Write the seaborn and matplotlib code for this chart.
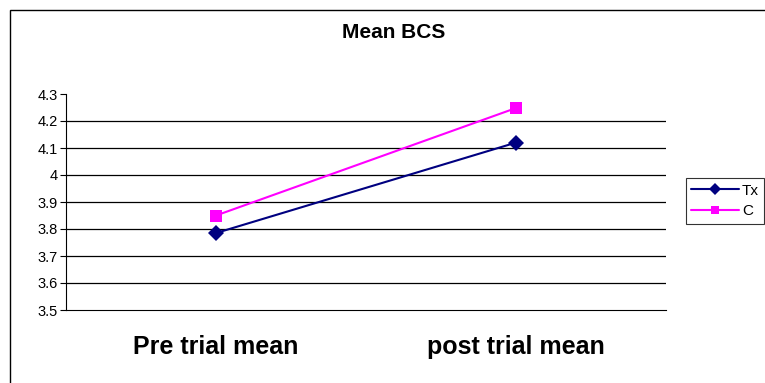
import numpy as np
import pandas as pd
import matplotlib
matplotlib.use('Agg')
import matplotlib.pyplot as plt
import seaborn as sns
from matplotlib.patches import Rectangle

# values
periods = ['Pre trial mean', 'post trial mean']
tx_vals = [3.785, 4.12]
c_vals = [3.85, 4.248]
series_names = ['Tx', 'C']
y_ticks = [3.5, 3.6, 3.7, 3.8, 3.9, 4.0, 4.1, 4.2, 4.3]
y_labels = ['3.5', '3.6', '3.7', '3.8', '3.9', '4', '4.1', '4.2', '4.3']

df = pd.DataFrame({
    'period': periods * 2,
    'pos': [0, 1, 0, 1],
    'value': tx_vals + c_vals,
    'series': [series_names[0]] * 2 + [series_names[1]] * 2,
})

sns.set_style('white')
plt.rcParams['font.family'] = ['Liberation Sans', 'DejaVu Sans']
plt.rcParams['text.color'] = 'black'
plt.rcParams['xtick.color'] = 'black'
plt.rcParams['ytick.color'] = 'black'

fig = plt.figure(figsize=(7.65, 3.83), dpi=100)
ax = fig.add_axes([66 / 765, 1 - 310 / 383, 600 / 765, 216 / 383])

# outer chart border (runs off the right/bottom edge like the reference)
fig.patches.append(Rectangle((10 / 765, -0.1), 1.2, (373 / 383) + 0.1,
                             transform=fig.transFigure, fill=False,
                             edgecolor='black', linewidth=1.0, zorder=0))

for yv in y_ticks[1:-1]:
    ax.axhline(yv, color='black', linewidth=0.9, zorder=1)

sns.lineplot(data=df, x='pos', y='value', hue='series', style='series',
             palette={'Tx': '#000080', 'C': '#FF00FF'},
             markers={'Tx': 'D', 'C': 's'}, dashes=False,
             markersize=8, markeredgewidth=0, linewidth=1.5,
             ax=ax, zorder=3)

ax.set_xlim(-0.5, 1.5)
ax.set_ylim(3.5, 4.3)
ax.set_yticks(y_ticks)
ax.set_yticklabels(y_labels, fontsize=10.5)
ax.set_xticks([0, 1])
ax.set_xticklabels(periods, fontsize=18, fontweight='bold')
ax.set_xticks([-0.5, 0.5, 1.5], minor=True)
ax.tick_params(axis='x', which='major', length=0, pad=18)
ax.tick_params(axis='x', which='minor', length=5, width=0.8, direction='out', color='black')
ax.tick_params(axis='y', length=4, width=0.8, direction='out', color='black', pad=2, left=True)
ax.set_xlabel('')
ax.set_ylabel('')

for side in ['top', 'right']:
    ax.spines[side].set_visible(False)
for side in ['left', 'bottom']:
    ax.spines[side].set_color('black')
    ax.spines[side].set_linewidth(0.8)

fig.text(394 / 765, 1 - 33 / 383, 'Mean BCS', ha='center', va='center',
         fontsize=15, fontweight='bold', color='black')

leg = ax.legend(loc='center left', bbox_to_anchor=(686 / 765, 1 - 201 / 383),
                bbox_transform=fig.transFigure, frameon=True, fancybox=False,
                fontsize=11, handlelength=3.1, handletextpad=0.2,
                borderpad=0.35, labelspacing=0.45, borderaxespad=0)
leg.get_frame().set_edgecolor('black')
leg.get_frame().set_linewidth(0.8)
for h in leg.legend_handles:
    h.set_markersize(6)
for t in leg.get_texts():
    t.set_color('black')

fig.savefig('out.png', dpi=100)
